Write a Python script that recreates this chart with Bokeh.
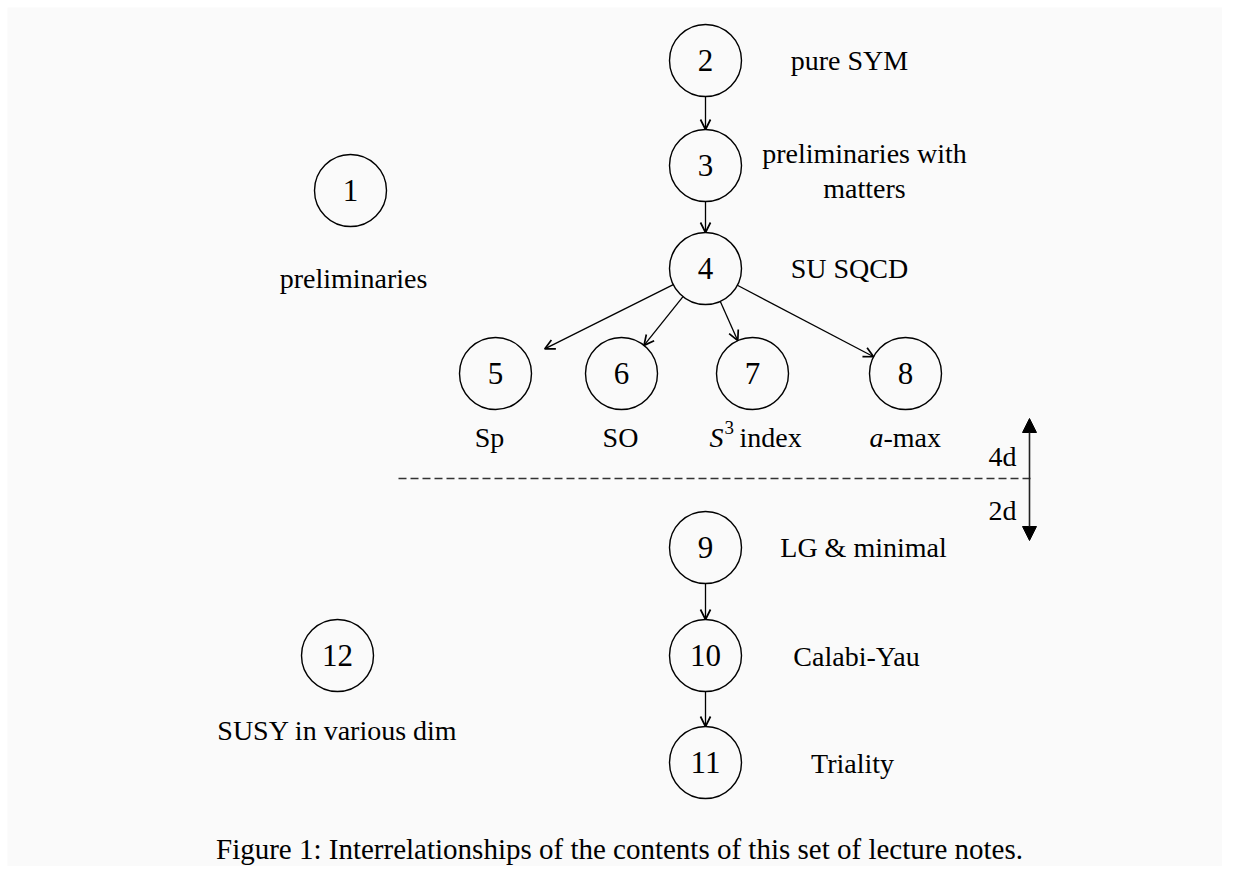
from bokeh.plotting import figure
from bokeh.models import Range1d, ColumnDataSource, Arrow, OpenHead, NormalHead
from bokeh.core.properties import value
from bokeh.embed import file_html
from bokeh.resources import INLINE
import math

# ---------------- data (diagram layout, in picture units) ----------------
node_ids = ["1", "2", "3", "4", "5", "6", "7", "8", "9", "10", "11", "12"]
node_x = [350, 705, 705, 705, 495, 621, 752, 905, 705, 705, 705, 337]
node_y = [190, 60, 165, 268, 373, 373, 373, 373, 547, 655, 762, 655]

edge_src = ["2", "3", "4", "4", "4", "4", "9", "10"]
edge_dst = ["3", "4", "5", "6", "7", "8", "10", "11"]
edge_gap = [0, 0, 19, 0, 0, 0, 0, 0]

label_text = ["preliminaries", "pure SYM", "preliminaries with", "matters",
              "SU SQCD", "Sp", "SO", "LG & minimal", "Calabi-Yau",
              "Triality", "SUSY in various dim"]
label_x = [353, 849, 864, 864, 849, 489, 620, 863, 856, 852, 337]
label_y = [278, 60, 153, 188, 268, 437, 437, 547, 656, 763, 730]

dim_text = ["4d", "2d"]
dim_x = [1002, 1002]
dim_y = [456, 510]

divider_x = [398, 1030]
divider_y = [478, 478]
dim_arrow_x = 1029
dim_arrow_y = [418, 540]

caption = "Figure 1: Interrelationships of the contents of this set of lecture notes."
caption_x = 619
caption_y = 848

# ---------------- figure ----------------
W, H = 1222, 866
M = 7
p = figure(width=W, height=H, output_backend="svg", toolbar_location=None,
           x_range=Range1d(M, W), y_range=Range1d(H, M),
           min_border_left=M, min_border_top=M,
           min_border_right=0, min_border_bottom=0)
p.axis.visible = False
p.xgrid.visible = False
p.ygrid.visible = False
p.outline_line_color = None
p.background_fill_color = "#fafafa"
p.border_fill_color = "white"

FONT = value("Liberation Serif")
R = 36

# nodes
p.circle(x=node_x, y=node_y, radius=R, fill_alpha=0,
         line_color="black", line_width=1.4)
p.text(x=node_x, y=node_y, text=node_ids, text_font=FONT,
       text_font_size="31px", text_align="center", text_baseline="middle",
       text_color="black")

# edges
pos = {n: (x, y) for n, x, y in zip(node_ids, node_x, node_y)}
xs, ys, xe, ye = [], [], [], []
for s, d, g in zip(edge_src, edge_dst, edge_gap):
    x0, y0 = pos[s]
    x1, y1 = pos[d]
    L = math.hypot(x1 - x0, y1 - y0)
    ux, uy = (x1 - x0) / L, (y1 - y0) / L
    xs.append(x0 + ux * R)
    ys.append(y0 + uy * R)
    xe.append(x1 - ux * (R + g))
    ye.append(y1 - uy * (R + g))
esrc = ColumnDataSource(dict(xs=xs, ys=ys, xe=xe, ye=ye))
p.add_layout(Arrow(source=esrc, x_start="xs", y_start="ys", x_end="xe", y_end="ye",
                   line_color="black", line_width=1.3,
                   end=OpenHead(size=10, line_color="black", line_width=1.7)))

# labels
p.text(x=label_x, y=label_y, text=label_text, text_font=FONT,
       text_font_size="28px", text_align="center", text_baseline="middle",
       text_color="black")

# S^3 index
p.text(x=[723], y=[437], text=["S"], text_font=FONT, text_font_style="italic",
       text_font_size="28px", text_align="right", text_baseline="middle",
       text_color="black")
p.text(x=[724], y=[427], text=["3"], text_font=FONT,
       text_font_size="19px", text_align="left", text_baseline="middle",
       text_color="black")
p.text(x=[739], y=[437], text=["index"], text_font=FONT,
       text_font_size="28px", text_align="left", text_baseline="middle",
       text_color="black")
# a-max
p.text(x=[883], y=[437], text=["a"], text_font=FONT, text_font_style="italic",
       text_font_size="28px", text_align="right", text_baseline="middle",
       text_color="black")
p.text(x=[883], y=[437], text=["-max"], text_font=FONT,
       text_font_size="28px", text_align="left", text_baseline="middle",
       text_color="black")

# divider and dimension arrow
p.line(x=divider_x, y=divider_y, line_color="#333333", line_width=1.3,
       line_dash="8 4")
p.add_layout(Arrow(x_start=dim_arrow_x, y_start=dim_arrow_y[1],
                   x_end=dim_arrow_x, y_end=dim_arrow_y[0],
                   line_color="#222222", line_width=1.6,
                   start=NormalHead(size=14, fill_color="black", line_color="black"),
                   end=NormalHead(size=14, fill_color="black", line_color="black")))
p.text(x=dim_x, y=dim_y, text=dim_text, text_font=FONT,
       text_font_size="28px", text_align="center", text_baseline="middle",
       text_color="black")

# caption
p.text(x=[caption_x], y=[caption_y], text=[caption], text_font=FONT,
       text_font_size="29px", text_align="center", text_baseline="middle",
       text_color="black")

open("out.html", "w").write(file_html(p, INLINE))
